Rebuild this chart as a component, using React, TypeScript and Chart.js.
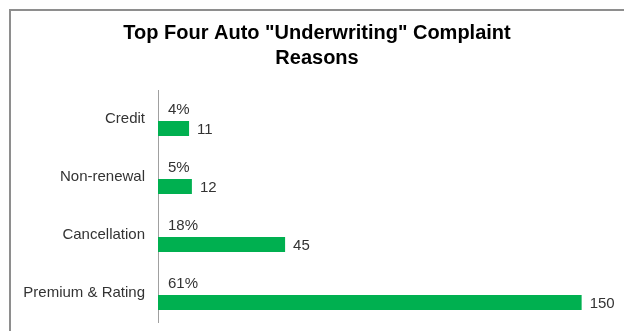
import React, { useEffect, useRef } from "react";
import { Chart, registerables } from "chart.js";

Chart.register(...registerables);

const titleLines = ['Top Four Auto "Underwriting" Complaint', "Reasons"];
const categories = ["Credit", "Non-renewal", "Cancellation", "Premium & Rating"];
const counts = [11, 12, 45, 150];
const percents = [4, 5, 18, 61];
const xMax = 165;

const FONT = "'Liberation Sans', Arial, sans-serif";
const TEXT = "#333333";
const GREEN = "#00B050";

const labelPlugin = {
  id: "barLabels",
  afterDatasetsDraw(chart: any) {
    const ctx = chart.ctx;
    ctx.save();
    ctx.font = `15px ${FONT}`;
    ctx.fillStyle = TEXT;
    ctx.textAlign = "left";
    ctx.textBaseline = "middle";
    const pctMeta = chart.getDatasetMeta(0);
    const cntMeta = chart.getDatasetMeta(1);
    pctMeta.data.forEach((el: any, i: number) => {
      ctx.fillText(`${percents[i]}%`, el.base + 10, el.y);
    });
    cntMeta.data.forEach((el: any, i: number) => {
      ctx.fillText(String(counts[i]), el.x + 8, el.y + 1);
    });
    ctx.restore();
  },
};

export default function App() {
  const ref = useRef<HTMLCanvasElement>(null);
  useEffect(() => {
    if (!ref.current) return;
    const chart = new Chart(ref.current, {
      type: "bar",
      data: {
        labels: categories,
        datasets: [
          {
            label: "Percent",
            data: percents,
            backgroundColor: "rgba(0,0,0,0)",
            borderWidth: 0,
          },
          {
            label: "Count",
            data: counts,
            backgroundColor: GREEN,
            borderWidth: 0,
          },
        ],
      },
      options: {
        indexAxis: "y",
        animation: false,
        responsive: false,
        maintainAspectRatio: false,
        categoryPercentage: 0.655,
        barPercentage: 0.79,
        layout: { padding: { left: 10, right: 0, top: 0, bottom: 9 } },
        plugins: {
          legend: { display: false },
          tooltip: { enabled: false },
          title: {
            display: true,
            text: titleLines,
            color: "#000000",
            font: { family: FONT, size: 20, weight: "bold", lineHeight: 25 / 20 },
            padding: { top: 21, bottom: 19 },
          },
        },
        scales: {
          x: {
            display: false,
            min: 0,
            max: xMax,
          },
          y: {
            afterFit(scale: any) {
              scale.width = 148;
              scale.paddingTop = 0;
              scale.paddingBottom = 0;
            },
            grid: { display: false, drawTicks: false },
            border: { display: true, color: "#a0a0a0", width: 1 },
            ticks: {
              color: TEXT,
              padding: 13,
              font: { family: FONT, size: 15 },
            },
          },
        },
      },
      plugins: [labelPlugin],
    });
    return () => chart.destroy();
  }, []);

  return (
    <div style={{ position: "fixed", left: 0, top: 0, width: 624, height: 331, background: "#fff" }}>
      <div
        style={{
          position: "absolute",
          left: 9,
          top: 9,
          right: 0,
          bottom: 0,
          borderLeft: "2px solid #8e8e8e",
          borderTop: "2px solid #8e8e8e",
        }}
      />
      <canvas ref={ref} width={624} height={331} style={{ position: "absolute", left: 0, top: 0 }} />
    </div>
  );
}
